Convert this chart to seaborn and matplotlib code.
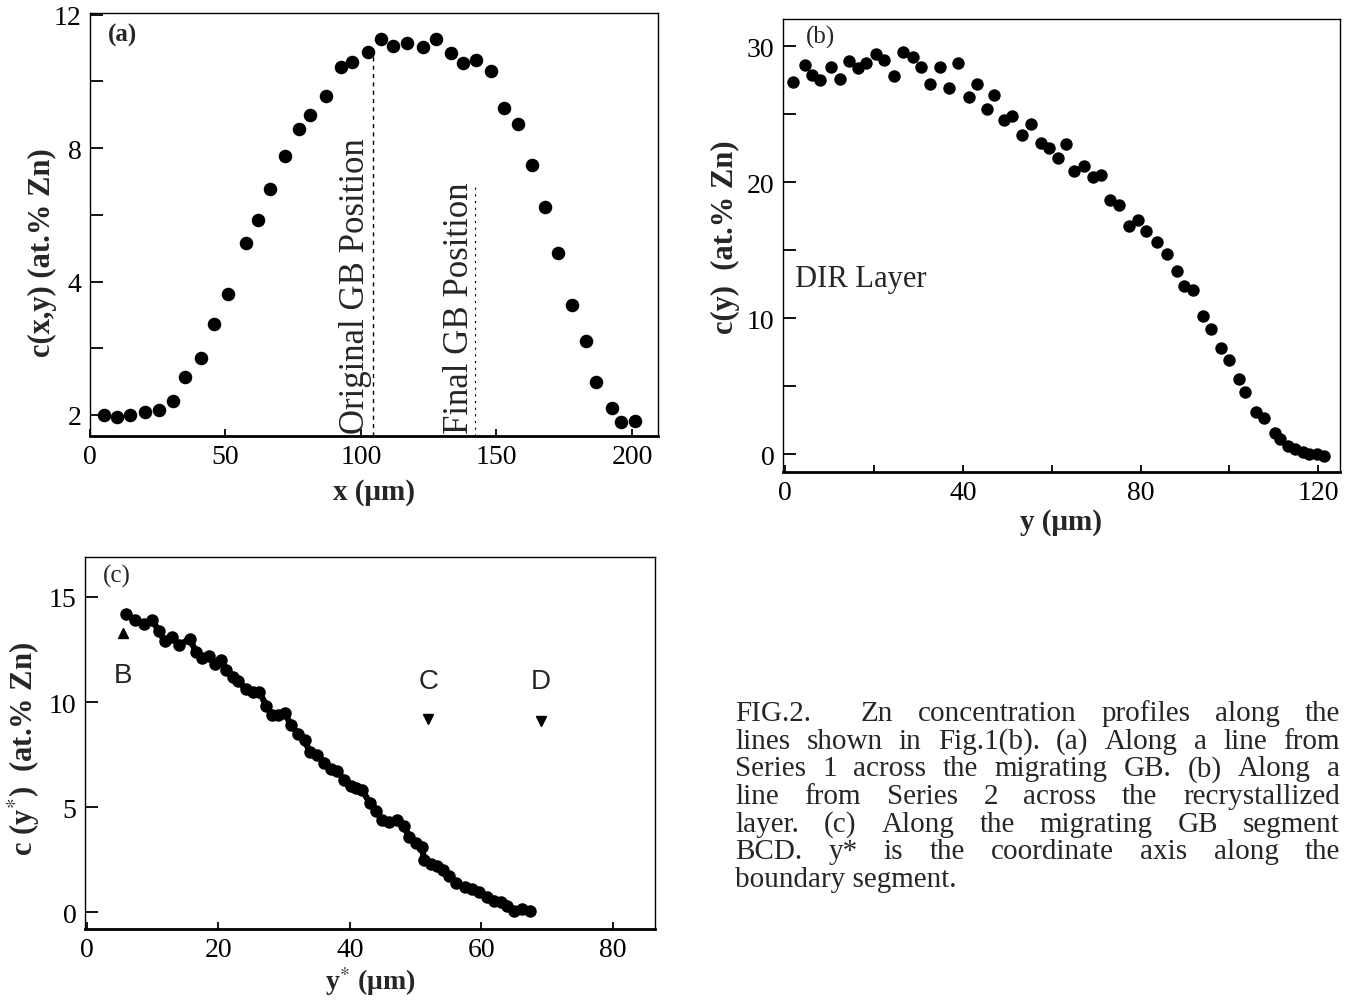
import matplotlib
matplotlib.use("Agg")
import matplotlib.pyplot as plt
from matplotlib.transforms import IdentityTransform
import seaborn as sns
import pandas as pd

# ---------------- data ----------------
# panel (a): c(x,y) vs x (um)  (values in axis units; bottom tick labelled "2")
xa = [5.1, 9.8, 14.8, 20.3, 25.4, 30.6, 35.1, 40.8, 45.7, 51.1, 57.6, 62.1, 66.5,
      71.9, 77.3, 81.3, 87.0, 92.5, 96.8, 102.7, 107.5, 111.9, 117.1, 122.7, 127.8,
      133.3, 137.8, 142.5, 147.8, 152.9, 157.9, 163.2, 167.8, 172.7, 177.8, 182.9,
      186.8, 192.5, 196.0, 201.1]
ca = [0.0, -0.05, 0.0, 0.1, 0.15, 0.43, 1.14, 1.70, 2.74, 3.63, 5.15, 5.84, 6.78,
      7.75, 8.56, 8.98, 9.55, 10.42, 10.59, 10.89, 11.26, 11.06, 11.16, 11.04, 11.26,
      10.84, 10.54, 10.64, 10.32, 9.21, 8.71, 7.48, 6.24, 4.87, 3.29, 2.23,
      0.99, 0.20, -0.2, -0.17]
a_yticks = [0, 2, 4, 6, 8, 10, 12]
a_yticklabels = ["2", "", "4", "", "8", "", "12"]
a_xticks = [0, 50, 100, 150, 200]
gb_original_x = 104.5
gb_final_x = 142.0

# panel (b): c(y) vs y (um)
yb = [1.7, 4.4, 6.1, 7.8, 10.2, 12.4, 14.4, 16.3, 18.2, 20.5, 22.2, 24.4, 26.6,
      28.8, 30.5, 32.7, 34.8, 36.9, 39.0, 41.3, 43.1, 45.4, 47.1, 49.3, 51.0, 53.4,
      55.3, 57.6, 59.3, 61.3, 63.2, 65.1, 67.3, 69.3, 71.0, 73.2, 75.1, 77.3, 79.5,
      81.3, 83.7, 86.0, 88.3, 89.8, 91.9, 94.0, 95.9, 98.0, 99.8, 102.2, 103.4,
      105.9, 107.8, 110.2, 111.5, 113.2, 114.8, 116.6, 118.0, 119.8, 121.3]
cb = [27.4, 28.6, 27.9, 27.5, 28.5, 27.6, 28.9, 28.4, 28.8, 29.4, 29.0, 27.8, 29.6,
      29.2, 28.5, 27.2, 28.5, 26.9, 28.8, 26.3, 27.2, 25.4, 26.4, 24.6, 24.9, 23.5,
      24.3, 22.9, 22.5, 21.8, 22.8, 20.8, 21.2, 20.4, 20.5, 18.7, 18.3, 16.8, 17.2,
      16.4, 15.6, 14.7, 13.5, 12.4, 12.1, 10.2, 9.2, 7.8, 6.9, 5.5, 4.6,
      3.1, 2.7, 1.6, 1.1, 0.6, 0.4, 0.2, 0.05, 0.0, -0.1]
b_yticks = [0, 5, 10, 15, 20, 25, 30]
b_yticklabels = ["0", "", "10", "", "20", "", "30"]
b_xticks = [0, 20, 40, 60, 80, 100, 120]
b_xticklabels = ["0", "", "40", "", "80", "", "120"]

# panel (c): c(y*) vs y* (um)
yc = [6.0, 7.3, 8.6, 9.9, 10.9, 11.8, 13.0, 14.0, 15.6, 16.6, 17.5, 18.5, 19.5,
      20.4, 21.2, 22.2, 23.0, 24.2, 25.2, 26.2, 27.3, 28.1, 29.1, 30.1, 31.0, 32.1,
      33.1, 33.9, 35.0, 36.1, 37.1, 38.1, 39.1, 40.1, 40.9, 41.9, 43.0, 44.0, 44.9,
      46.0, 47.2, 48.2, 49.0, 50.0, 50.9, 51.3, 52.3, 53.3, 54.2, 55.1, 56.2, 57.5,
      58.6, 59.6, 60.8, 61.9, 62.9, 63.9, 65.0, 66.1, 67.4]
cc = [14.2, 13.9, 13.7, 13.9, 13.4, 12.9, 13.1, 12.7, 13.0, 12.4, 12.1, 12.2, 11.8,
      12.0, 11.5, 11.2, 11.0, 10.6, 10.5, 10.5, 9.8, 9.4, 9.4, 9.5, 8.9, 8.5,
      8.2, 7.6, 7.5, 7.1, 6.8, 6.7, 6.3, 6.0, 5.9, 5.8, 5.2, 4.8, 4.4,
      4.3, 4.4, 4.1, 3.6, 3.3, 3.1, 2.5, 2.3, 2.2, 2.0, 1.7, 1.4, 1.2,
      1.1, 0.95, 0.7, 0.55, 0.5, 0.3, 0.05, 0.15, 0.08]
c_yticks = [0, 5, 10, 15]
c_xticks = [0, 20, 40, 60, 80]
marker_labels = ["B", "C", "D"]
marker_x = [5.5, 51.9, 69.0]
marker_text_y = [11.3, 11.0, 11.0]
marker_tri_y = [13.3, 9.2, 9.1]
marker_tri_shape = ["^", "v", "v"]

caption_lines = [
    "FIG.2.   Zn concentration profiles along the",
    "lines shown in Fig.1(b). (a) Along a line from",
    "Series 1 across the migrating GB. (b) Along a",
    "line from Series 2 across the recrystallized",
    "layer. (c) Along the migrating GB segment",
    "BCD. y* is the coordinate axis along the",
    "boundary segment.",
]

# ---------------- style ----------------
sns.set_theme(style="ticks")
SERIF = ["Liberation Serif", "DejaVu Serif"]
SANS = ["Liberation Sans", "DejaVu Sans"]
plt.rcParams["font.family"] = SERIF
plt.rcParams["mathtext.fontset"] = "stix"

W, H = 1354, 1004
fig = plt.figure(figsize=(W / 100, H / 100), dpi=100)


def add_axes_px(left, top, right, bottom):
    return fig.add_axes([left / W, 1 - bottom / H, (right - left) / W, (bottom - top) / H])


def style_axes(ax):
    for side in ["top", "right", "left"]:
        ax.spines[side].set_linewidth(1.0)
        ax.spines[side].set_color("black")
    ax.spines["bottom"].set_linewidth(2.0)
    ax.spines["bottom"].set_color("black")
    ax.tick_params(axis="both", direction="in", colors="black", labelsize=20,
                   width=1.3, pad=6)
    ax.tick_params(axis="y", length=9)
    ax.tick_params(axis="x", length=5)
    ax.set_facecolor("white")


# ---------------- panel (a) ----------------
axa = add_axes_px(90, 14, 658, 437)
sns.scatterplot(x=xa, y=ca, ax=axa, color="black", s=95, edgecolor="black", linewidth=0)
axa.set_xlim(0, 209.6)
axa.set_ylim(-0.63, 12.05)
axa.set_yticks(a_yticks)
axa.set_yticklabels(a_yticklabels)
axa.set_xticks(a_xticks)
style_axes(axa)
axa.plot([gb_original_x, gb_original_x], [-0.63, 11.0], color="black", lw=1.0, ls=(0, (3, 3)))
axa.plot([gb_final_x, gb_final_x], [-0.63, 6.9], color="black", lw=0.8, ls=(0, (2, 4)))
axa.text(gb_original_x - 6.5, -0.55, "Original GB Position", rotation=90, ha="center",
         va="bottom", fontsize=25)
axa.text(gb_final_x - 5.5, -0.55, "Final GB Position", rotation=90, ha="center",
         va="bottom", fontsize=25)
axa.text(6.5, 11.4, "(a)", fontsize=18, fontweight="bold", ha="left", va="center")
axa.set_xlabel("x (μm)", fontsize=21, fontweight="bold", labelpad=6)
axa.set_ylabel("c(x,y) (at.% Zn)", fontsize=22, fontweight="bold")
axa.yaxis.set_label_coords(-0.058, 0.437)

# ---------------- panel (b) ----------------
axb = add_axes_px(783, 20, 1340, 473)
sns.scatterplot(x=yb, y=cb, ax=axb, color="black", s=80, edgecolor="black", linewidth=0)
axb.set_xlim(-0.5, 124.9)
axb.set_ylim(-1.3, 32.0)
axb.set_yticks(b_yticks)
axb.set_yticklabels(b_yticklabels)
axb.set_xticks(b_xticks)
axb.set_xticklabels(b_xticklabels)
style_axes(axb)
axb.text(2.2, 12.9, "DIR Layer", fontsize=22, ha="left", va="center")
axb.text(8.0, 30.7, "(b)", fontsize=18, ha="center", va="center")
axb.set_xlabel("y (μm)", fontsize=21, fontweight="bold", labelpad=2)
axb.set_ylabel("c(y)  (at.% Zn)", fontsize=22, fontweight="bold")
axb.yaxis.set_label_coords(-0.077, 0.52)

# ---------------- panel (c) ----------------
axc = add_axes_px(85, 558, 655, 930)
dfc = pd.DataFrame({"y*": yc, "c": cc})
sns.lineplot(data=dfc, x="y*", y="c", ax=axc, color="black", lw=4.5, marker="o",
             markersize=9, markeredgewidth=0, sort=False)
axc.set_xlim(-0.3, 86.4)
axc.set_ylim(-0.8, 16.9)
axc.set_yticks(c_yticks)
axc.set_xticks(c_xticks)
style_axes(axc)
for lab, mx, ty, ry, shp in zip(marker_labels, marker_x, marker_text_y, marker_tri_y,
                                marker_tri_shape):
    axc.text(mx, ty, lab, fontsize=20, family=SANS, ha="center", va="center")
    axc.plot([mx], [ry], marker=shp, color="black", markersize=7, ls="none")
axc.text(4.5, 16.0, "(c)", fontsize=18, ha="center", va="center")
axc.set_xlabel("y$^{*}$ (μm)", fontsize=20, fontweight="bold", labelpad=1)
axc.set_ylabel("c (y$^{*}$)  (at.% Zn)", fontsize=22, fontweight="bold")
axc.yaxis.set_label_coords(-0.075, 0.487)

# ---------------- caption (justified) ----------------
fig.canvas.draw()
renderer = fig.canvas.get_renderer()
cap_left, cap_right = 735, 1340
cap_top, cap_step = 714, 27.7
cap_fs = 21
for i, line in enumerate(caption_lines):
    ypix = H - (cap_top + i * cap_step)
    words = line.split()
    if i == len(caption_lines) - 1:
        fig.text(cap_left, ypix, line, transform=IdentityTransform(), fontsize=cap_fs,
                 family=SERIF, ha="left", va="center")
        continue
    objs = [fig.text(0, ypix, w, transform=IdentityTransform(), fontsize=cap_fs,
                     family=SERIF, ha="left", va="center") for w in words]
    widths = [o.get_window_extent(renderer).width for o in objs]
    weights = [2.0 if (j == 0 and words[0].startswith("FIG")) else 1.0
               for j in range(len(words) - 1)]
    unit = (cap_right - cap_left - sum(widths)) / sum(weights)
    xcur = cap_left
    for j, (o, wd) in enumerate(zip(objs, widths)):
        o.set_x(xcur)
        if j < len(weights):
            xcur += wd + unit * weights[j]

fig.savefig("out.png", dpi=100, facecolor="white")
